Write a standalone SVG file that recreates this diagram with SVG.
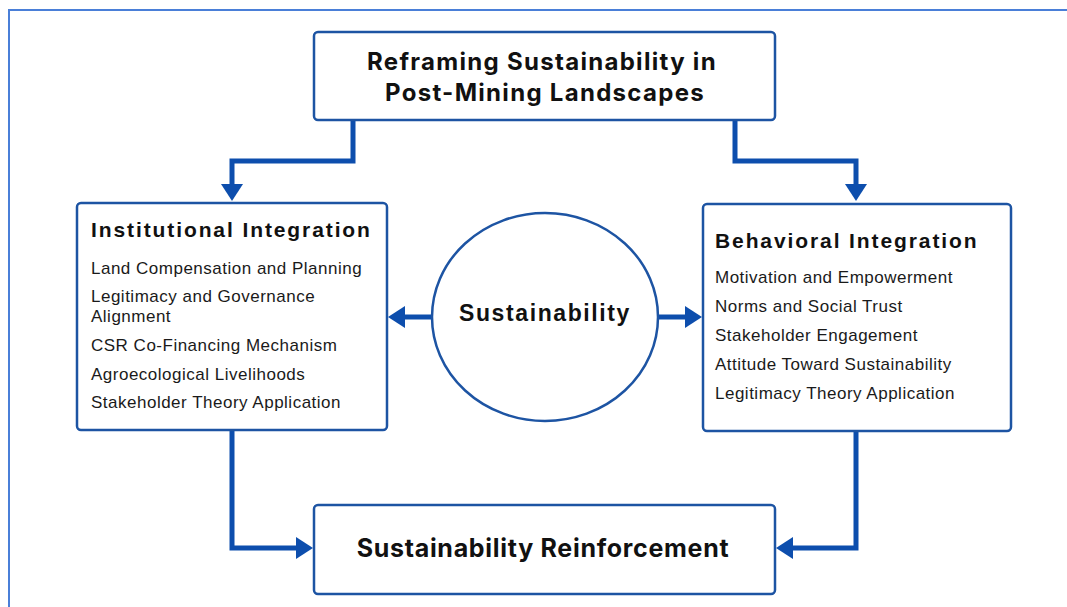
<svg xmlns="http://www.w3.org/2000/svg" width="1067" height="607" viewBox="0 0 1067 607">
  <style>
    .frame { fill: none; stroke: #4a7fd8; stroke-width: 2; }
    .box { fill: #ffffff; stroke: #1d54a3; stroke-width: 2.5; }
    .wire { fill: none; stroke: #0d4ead; stroke-width: 5; stroke-linejoin: miter; }
    .head { fill: #0d4ead; }
    .title { font-family: Inter, Roboto, "Liberation Sans", sans-serif; font-weight: 700; fill: #111111; text-anchor: middle; }
    .head-label { font-family: "Liberation Sans", Arial, sans-serif; font-weight: 700; font-size: 21px; letter-spacing: 1.9px; fill: #111111; }
    .item { font-family: "Liberation Sans", Arial, sans-serif; font-size: 17px; letter-spacing: 0.5px; fill: #1a1a1a; }
    .core { font-family: "Liberation Sans", Arial, sans-serif; font-weight: 700; font-size: 23px; letter-spacing: 1.6px; fill: #111111; text-anchor: middle; }
  </style>

  <rect width="1067" height="607" fill="#ffffff"/>
  <!-- outer frame, runs off the right and bottom edges -->
  <rect class="frame" x="9" y="10" width="1080" height="620"/>

  <!-- connectors -->
  <g id="connectors">
    <path class="wire" d="M353,120 V161 H232 V186"/>
    <polygon class="head" points="221,184 243,184 232,201"/>
    <path class="wire" d="M735,120 V161 H856 V186"/>
    <polygon class="head" points="845,184 867,184 856,201"/>

    <path class="wire" d="M432,317 H402"/>
    <polygon class="head" points="405,306 405,328 388,317"/>
    <path class="wire" d="M658,317 H688"/>
    <polygon class="head" points="685,306 685,328 702,317"/>

    <path class="wire" d="M232,430 V548 H299"/>
    <polygon class="head" points="296,537 296,559 313,548"/>
    <path class="wire" d="M856,431 V548 H790"/>
    <polygon class="head" points="793,537 793,559 776,548"/>
  </g>

  <g id="node-reframing">
    <rect class="box" x="314" y="32" width="461" height="88" rx="4"/>
    <text class="title" x="542" y="70" font-size="24" letter-spacing="1.3">Reframing Sustainability in</text>
    <text class="title" x="545" y="101" font-size="24" letter-spacing="1.3">Post-Mining Landscapes</text>
  </g>

  <g id="node-institutional">
    <rect class="box" x="77" y="203" width="310" height="227" rx="4"/>
    <text class="head-label" x="91" y="237">Institutional Integration</text>
    <text class="item" x="91" y="274">Land Compensation and Planning</text>
    <text class="item" x="91" y="302">Legitimacy and Governance</text>
    <text class="item" x="91" y="322">Alignment</text>
    <text class="item" x="91" y="351">CSR Co-Financing Mechanism</text>
    <text class="item" x="91" y="380">Agroecological Livelihoods</text>
    <text class="item" x="91" y="408">Stakeholder Theory Application</text>
  </g>

  <g id="node-sustainability">
    <ellipse class="box" cx="545" cy="317" rx="113" ry="104"/>
    <text class="core" x="545" y="321">Sustainability</text>
  </g>

  <g id="node-behavioral">
    <rect class="box" x="703" y="204" width="308" height="227" rx="4"/>
    <text class="head-label" x="715" y="248">Behavioral Integration</text>
    <text class="item" x="715" y="283">Motivation and Empowerment</text>
    <text class="item" x="715" y="312">Norms and Social Trust</text>
    <text class="item" x="715" y="341">Stakeholder Engagement</text>
    <text class="item" x="715" y="370">Attitude Toward Sustainability</text>
    <text class="item" x="715" y="399">Legitimacy Theory Application</text>
  </g>

  <g id="node-reinforcement">
    <rect class="box" x="314" y="505" width="461" height="89" rx="4"/>
    <text class="title" x="543" y="557" font-size="25" letter-spacing="0.7">Sustainability Reinforcement</text>
  </g>
</svg>
